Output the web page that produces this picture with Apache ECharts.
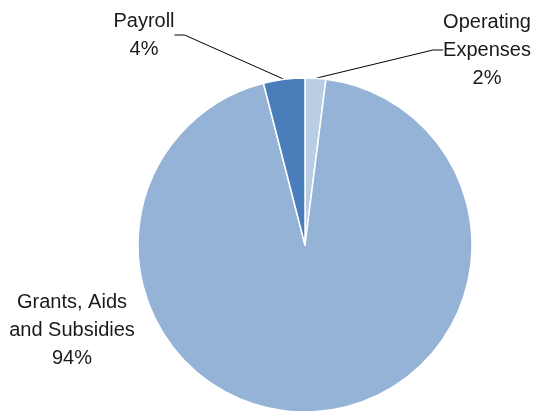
<!DOCTYPE html>
<html>
<head>
<meta charset="utf-8">
<script src="https://cdn.jsdelivr.net/npm/echarts@6/dist/echarts.min.js"></script>
<style>
  html, body { margin: 0; padding: 0; background: #fff; }
  #chart { width: 534px; height: 411px; }
</style>
</head>
<body>
<div id="chart"></div>
<script>
// data
var categories = ['Operating\nExpenses', 'Grants, Aids\nand Subsidies', 'Payroll'];
var values = [2, 94, 4];
var colors = ['#B9CDE5', '#95B3D7', '#4A7EBB'];
// where each label sits (centre of the text block)
var labelSpots = [[487, 50], [72, 330], [144, 35]];

var myChart = echarts.init(document.getElementById('chart'));

var seriesData = [];
for (var i = 0; i < categories.length; i++) {
    seriesData.push({
        name: categories[i],
        value: values[i],
        itemStyle: { color: colors[i] },
        labelLine: { show: i !== 1 }
    });
}

var option = {
    animation: false,
    series: [{
        type: 'pie',
        center: [305, 245],
        radius: [0, 167],
        startAngle: 90,
        clockwise: true,
        data: seriesData,
        itemStyle: { borderColor: '#fff', borderWidth: 1.5 },
        label: {
            show: true,
            formatter: '{b}\n{c}%',
            fontFamily: '"Liberation Sans Narrow", "Arial Narrow", "Liberation Sans", sans-serif',
            fontSize: 20,
            lineHeight: 28,
            color: '#1a1a1a',
            align: 'center'
        },
        labelLine: {
            show: true,
            length: 10,
            length2: 10,
            lineStyle: { color: '#000', width: 1 }
        },
        labelLayout: function (params) {
            var p = labelSpots[params.dataIndex];
            return { x: p[0], y: p[1], align: 'center', verticalAlign: 'middle' };
        }
    }]
};
myChart.setOption(option);
</script>
</body>
</html>
